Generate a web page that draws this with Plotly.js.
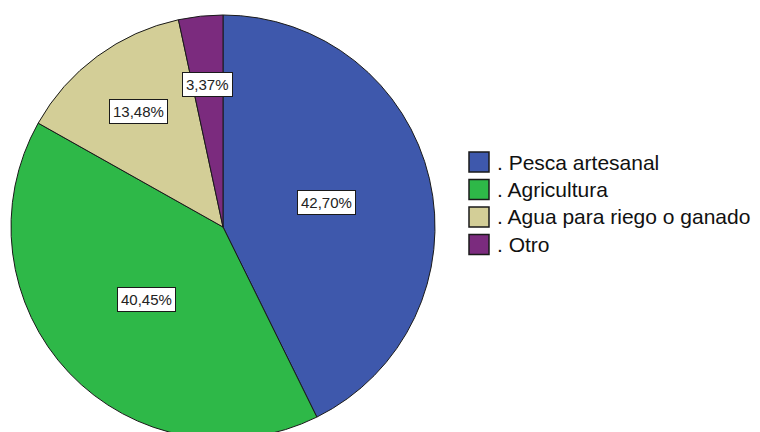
<!DOCTYPE html>
<html>
<head>
<meta charset="utf-8">
<script src="https://cdn.plot.ly/plotly-3.0.1.min.js"></script>
<style>
html,body{margin:0;padding:0;overflow:hidden;background:#fff;}
#chart{width:760px;height:439px;}
</style>
</head>
<body>
<div id="chart"></div>
<script>
// Data
var categories = [". Pesca artesanal", ". Agricultura", ". Agua para riego o ganado", ". Otro"];
var percents = [42.70, 40.45, 13.48, 3.37];
var colors = ["#3E58AC", "#2EB848", "#D3CE97", "#7B2B7E"];

var W = 760, H = 439;
var M = {l: 11, r: 0, t: 15, b: 0};
var plotW = W - M.l - M.r, plotH = H - M.t - M.b;
var side = Math.min(plotW, plotH);
var domX = [0, side / plotW];
function px2x(px){ return (px - M.l) / plotW; }
function px2y(py){ return 1 - (py - M.t) / plotH; }

var FONT = 'Liberation Sans, Arial, sans-serif';

// slice labels positioned from the slice angles
var total = percents.reduce(function(a, b){ return a + b; }, 0);
var cx = (domX[0] + domX[1]) / 2, cy = 0.5;
var rx = (side / 2) / plotW, ry = (side / 2) / plotH;
var annotations = [];
var shapes = [];
var cum = 0;
percents.forEach(function(v){
  var frac = v / total;
  var theta = 2 * Math.PI * (cum + frac / 2);
  var f = frac > 0.25 ? 0.5 : 0.675;
  annotations.push({
    xref: 'paper', yref: 'paper',
    x: cx + f * rx * Math.sin(theta),
    y: cy + f * ry * Math.cos(theta),
    xanchor: 'center', yanchor: 'middle',
    text: v.toFixed(2).replace('.', ',') + '%',
    showarrow: false,
    bgcolor: '#ffffff', bordercolor: '#1a1a1a', borderwidth: 1, borderpad: 3,
    font: {family: FONT, size: 15, color: '#222'}
  });
  cum += frac;
});

// legend (swatch + label per category)
var LEG = {x0: 469, sw: 20, y0: 162, step: 27.5, textX: 495};
categories.forEach(function(name, i){
  var yc = LEG.y0 + i * LEG.step;
  shapes.push({
    type: 'rect', xref: 'paper', yref: 'paper',
    x0: px2x(LEG.x0), x1: px2x(LEG.x0 + LEG.sw),
    y0: px2y(yc - LEG.sw / 2), y1: px2y(yc + LEG.sw / 2),
    fillcolor: colors[i], line: {color: '#1a1a1a', width: 1.5}
  });
  annotations.push({
    xref: 'paper', yref: 'paper',
    x: px2x(LEG.textX), y: px2y(yc),
    xanchor: 'left', yanchor: 'middle',
    text: name, showarrow: false,
    font: {family: FONT, size: 21, color: '#111'}
  });
});

var trace = {
  type: 'pie',
  labels: categories,
  values: percents,
  sort: false,
  direction: 'clockwise',
  rotation: 0,
  textinfo: 'none',
  hoverinfo: 'label+percent',
  marker: {colors: colors, line: {color: '#1a1a1a', width: 1}},
  domain: {x: domX, y: [0, 1]}
};

var layout = {
  width: W, height: H,
  margin: M,
  paper_bgcolor: '#fff',
  showlegend: false,
  annotations: annotations,
  shapes: shapes
};

Plotly.newPlot('chart', [trace], layout, {displayModeBar: false, staticPlot: true});
</script>
</body>
</html>
